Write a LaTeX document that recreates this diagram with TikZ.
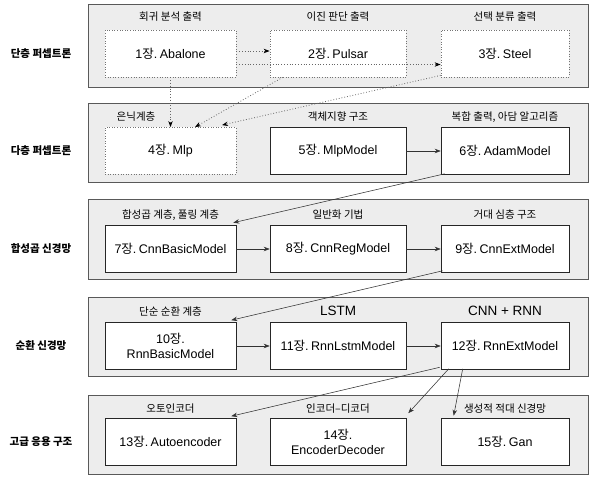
\documentclass[tikz,border=0pt]{standalone}
\usepackage{fontspec}
\setmainfont{Liberation Sans}
\newfontfamily\krfont{Noto Sans CJK KR}
\newcommand\kor[1]{{\krfont #1}}
\newcommand\boxfont{\fontsize{12.5}{14.5}\selectfont}
\newcommand\tsp{\hspace{0.2em}}
\frenchspacing
\usetikzlibrary{arrows.meta}
\begin{document}
\begin{tikzpicture}[x=1pt,y=-1pt,
  panel/.style={draw=black!65,line width=0.7pt,fill=black!7,inner sep=0pt},
  box/.style={draw=black!85,line width=0.6pt,fill=white,minimum height=47pt,inner sep=2pt,align=center,font=\boxfont},
  dotbox/.style={draw=black!55,dotted,line width=0.8pt},
  plabel/.style={font=\krfont\fontsize{10.5}{13}\selectfont,inner sep=0pt},
  blabel/.style={font=\fontsize{13.5}{15}\selectfont,inner sep=0pt},
  side/.style={font=\krfont\bfseries\fontsize{10.5}{13}\selectfont,inner sep=0pt},
  conn/.style={draw=black!80,line width=0.55pt,-{Stealth[length=6pt,width=4.5pt]}},
  dotconn/.style={draw=black!60,dotted,line width=0.8pt,-{Stealth[length=6pt,width=4.5pt,black]}}]
\useasboundingbox (0,0) rectangle (600,486);
\fill[white] (0,0) rectangle (600,486);
% panels
\node[panel,minimum width=500pt,minimum height=83pt] (p1) at (338,45.5) {};
\node[panel,minimum width=500pt,minimum height=79pt] (p2) at (338,142.5) {};
\node[panel,minimum width=500pt,minimum height=80pt] (p3) at (338,239) {};
\node[panel,minimum width=500pt,minimum height=79pt] (p4) at (338,336.5) {};
\node[panel,minimum width=500pt,minimum height=79pt] (p5) at (338,434.5) {};
% side labels
\node[side] (s1) at (41,53.5) {단층 퍼셉트론};
\node[side] (s2) at (41,151) {다층 퍼셉트론};
\node[side] (s3) at (41,249) {합성곱 신경망};
\node[side] (s4) at (41,346) {순환 신경망};
\node[side] (s5) at (41,442) {고급 응용 구조};
% panel labels
\node[plabel] (l1) at (170.5,17) {회귀 분석 출력};
\node[plabel] (l2) at (338,17) {이진 판단 출력};
\node[plabel] (l3) at (505,17) {선택 분류 출력};
\node[plabel] (l4) at (136,117) {은닉계층};
\node[plabel] (l5) at (338,117) {객체지향 구조};
\node[plabel] (l6) at (505,117) {복합 출력, 아담 알고리즘};
\node[plabel] (l7) at (170.5,215) {합성곱 계층, 풀링 계층};
\node[plabel] (l8) at (338,215) {일반화 기법};
\node[plabel] (l9) at (505,215) {거대 심층 구조};
\node[plabel] (l10) at (170.5,311.5) {단순 순환 계층};
\node[blabel] (l11) at (338,311) {LSTM};
\node[blabel] (l12) at (505,311) {CNN + RNN};
\node[plabel] (l13) at (170.5,409) {오토인코더};
\node[plabel] (l14) at (338,409) {인코더–디코더};
\node[plabel] (l15) at (505,409) {생성적 적대 신경망};
% boxes
\node[box,dotbox,minimum width=131pt] (b1) at (170.5,53.5) {1\kor{장}.\tsp Abalone};
\node[box,dotbox,minimum width=136pt] (b2) at (338,53.5) {2\kor{장}.\tsp Pulsar};
\node[box,dotbox,minimum width=128pt] (b3) at (505,53.5) {3\kor{장}.\tsp Steel};
\node[box,dotbox,minimum width=131pt] (b4) at (170.5,151) {4\kor{장}.\tsp Mlp};
\node[box,minimum width=136pt] (b5) at (338,151) {5\kor{장}.\tsp MlpModel};
\node[box,minimum width=128pt] (b6) at (505,151) {6\kor{장}.\tsp AdamModel};
\node[box,minimum width=131pt] (b7) at (170.5,249) {7\kor{장}.\tsp CnnBasicModel};
\node[box,minimum width=136pt] (b8) at (338,249) {8\kor{장}.\tsp CnnRegModel};
\node[box,minimum width=128pt] (b9) at (505,249) {9\kor{장}.\tsp CnnExtModel};
\node[box,minimum width=131pt] (b10) at (170.5,346) {10\kor{장}.\\RnnBasicModel};
\node[box,minimum width=136pt] (b11) at (338,346) {11\kor{장}.\tsp RnnLstmModel};
\node[box,minimum width=128pt] (b12) at (505,346) {12\kor{장}.\tsp RnnExtModel};
\node[box,minimum width=131pt] (b13) at (170.5,442) {13\kor{장}.\tsp Autoencoder};
\node[box,minimum width=136pt] (b14) at (338,442) {14\kor{장}.\\EncoderDecoder};
\node[box,minimum width=128pt] (b15) at (505,442) {15\kor{장}.\tsp Gan};
% connectors
\draw[dotconn] ([yshift=2.5pt]b1.east) -- ([yshift=2.5pt]b2.west);
\draw[dotconn] ([yshift=-11pt]b1.east) -- ([yshift=-11pt]b3.west);
\draw[dotconn] (b1.south) -- (b4.north);
\draw[dotconn] ([xshift=13pt]b2.south west) -- ([xshift=24.5pt]b4.north);
\draw[dotconn] ([yshift=2pt]b3.south west) -- ([xshift=51.5pt,yshift=2pt]b4.north);
\draw[conn] (b5) -- (b6);
\draw[conn] ([xshift=4pt,yshift=1pt]b6.south west) -- ([xshift=-3pt,yshift=2.5pt]b7.north east);
\draw[conn] (b7) -- (b8);
\draw[conn] (b8) -- (b9);
\draw[conn] ([xshift=2pt,yshift=2pt]b9.south west) -- ([xshift=-5pt,yshift=2pt]b10.north east);
\draw[conn] (b10) -- (b11);
\draw[conn] (b11) -- (b12);
\draw[conn] ([xshift=-1pt,yshift=2.5pt]b12.south west) -- ([xshift=-5pt,yshift=2pt]b13.north east);
\draw[conn] ([xshift=8pt,yshift=1pt]b12.south west) -- ([xshift=2pt,yshift=5pt]b14.north east);
\draw[conn] ([xshift=22pt,yshift=1pt]b12.south west) -- ([xshift=13pt,yshift=2.5pt]b15.north west);
\end{tikzpicture}
\end{document}
